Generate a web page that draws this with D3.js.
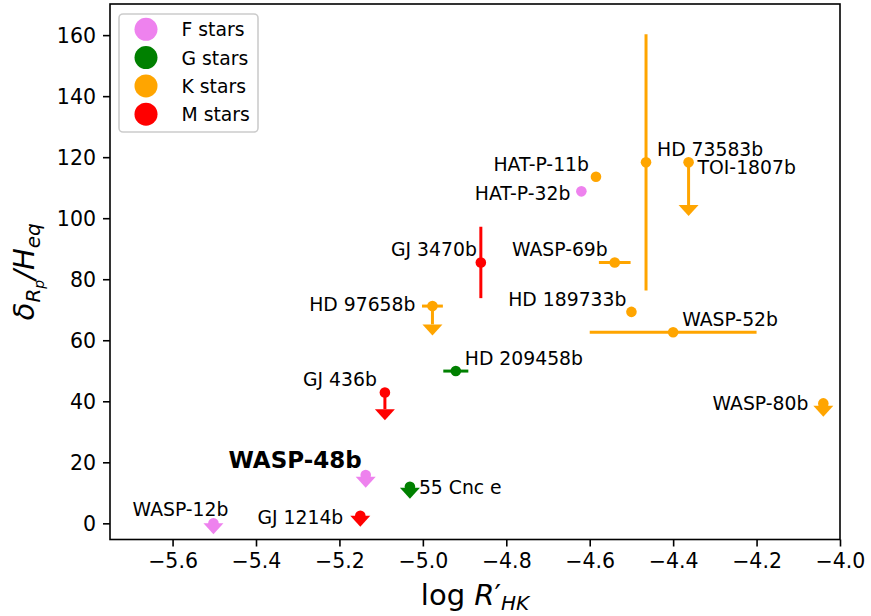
<!DOCTYPE html>
<html>
<head>
<meta charset="utf-8">
<script src="https://cdn.jsdelivr.net/npm/d3@7"></script>
<style>
  body { margin: 0; background: #fff; }
  svg { font-family: "DejaVu Sans", sans-serif; }
</style>
</head>
<body>
<div id="chart"></div>
<script>
// planets, star type, activity index and scale-height ratio
var planets   = ["HAT-P-11b", "HAT-P-32b", "HD 73583b", "TOI-1807b", "WASP-69b", "HD 189733b", "WASP-52b", "GJ 3470b",
                 "HD 97658b", "HD 209458b", "GJ 436b", "WASP-48b", "55 Cnc e", "GJ 1214b", "WASP-12b", "WASP-80b"];
var starType  = ["K", "F", "K", "K", "K", "K", "K", "M", "K", "G", "M", "F", "G", "M", "F", "K"];
var logRHK    = [-4.585, -4.620, -4.465, -4.363, -4.540, -4.500, -4.400, -4.861, -4.977, -4.921, -5.091, -5.137, -5.031, -5.150, -5.502, -4.040];
var deltaH    = [113.6, 108.8, 118.3, 118.3, 85.5, 69.3, 62.6, 85.5, 71.2, 49.9, 42.9, 15.8, 12.0, 2.5, 0.0, 39.3];
var xErr      = [0, 0, 0, 0, 0.038, 0, 0.2, 0, 0.025, 0.03, 0, 0, 0, 0, 0, 0];
var yErr      = [0, 0, 42, 0, 0, 0, 0, 11.7, 0, 0, 0, 0, 0, 0, 0, 0];
// upper limits: length of the arrow (null = measured value)
var upLim     = [null, null, null, 14, null, null, null, null, 6, null, 5.5, 0.5, 0.3, 0, 0, 0.8];

var legendTypes  = ["F", "G", "K", "M"];
var legendLabels = ["F stars", "G stars", "K stars", "M stars"];
var typeColors   = ["violet", "green", "orange", "red"];

var xTicks = [-5.6, -5.4, -5.2, -5.0, -4.8, -4.6, -4.4, -4.2, -4.0];
var yTicks = [0, 20, 40, 60, 80, 100, 120, 140, 160];

// label placement (pixel offsets from the point)
var labelDx     = [-7, -11, 11, 9, -7, -5, 9, -4, -17, 9, -8, -4, 9, -17, 15, -15];
var labelDy     = [-6, 9, -6, 12, -6, -6, -6, -6, 5, -6, -6, -7, 7, 8, -7, 7];
var labelAnchor = ["end", "end", "start", "start", "end", "end", "start", "end", "end", "start", "end", "end", "start", "end", "end", "end"];

var W = 871, H = 616;
var pLeft = 110, pRight = 840, pTop = 4, pBottom = 539.5;

var svg = d3.select("#chart").append("svg").attr("width", W).attr("height", H);

var x = d3.scaleLinear().domain([-5.75, -4.0]).range([pLeft, pRight]);
var y = d3.scaleLinear().domain([-5.3, 170.2]).range([pBottom, pTop]);
var color = d3.scaleOrdinal().domain(legendTypes).range(typeColors);

// axes
var xAxis = svg.append("g").attr("transform", "translate(0," + pBottom + ")")
  .call(d3.axisBottom(x).tickValues(xTicks).tickFormat(d3.format(".1f")).tickSize(7).tickPadding(6));
var yAxis = svg.append("g").attr("transform", "translate(" + pLeft + ",0)")
  .call(d3.axisLeft(y).tickValues(yTicks).tickSize(7).tickPadding(7));
[xAxis, yAxis].forEach(function(a) {
  a.select(".domain").remove();
  a.selectAll(".tick line").attr("stroke", "#000").attr("stroke-width", 1.6);
  a.selectAll(".tick text").attr("fill", "#000").style("font-size", "20.5px").style("font-family", "DejaVu Sans");
});
xAxis.selectAll(".tick text").attr("dy", "0.78em");
yAxis.selectAll(".tick text").attr("dy", "0.36em");

svg.append("rect").attr("x", pLeft).attr("y", pTop).attr("width", pRight - pLeft).attr("height", pBottom - pTop)
  .attr("fill", "none").attr("stroke", "#000").attr("stroke-width", 1.6);

var idx = d3.range(planets.length);
var pts = svg.append("g");

// error bars
idx.forEach(function(i) {
  var c = color(starType[i]);
  if (xErr[i] > 0) {
    pts.append("line").attr("x1", x(logRHK[i] - xErr[i])).attr("x2", x(logRHK[i] + xErr[i]))
      .attr("y1", y(deltaH[i])).attr("y2", y(deltaH[i])).attr("stroke", c).attr("stroke-width", 3);
  }
  if (yErr[i] > 0) {
    pts.append("line").attr("x1", x(logRHK[i])).attr("x2", x(logRHK[i]))
      .attr("y1", y(deltaH[i] - yErr[i])).attr("y2", y(deltaH[i] + yErr[i])).attr("stroke", c).attr("stroke-width", 3);
  }
  if (upLim[i] !== null) {
    var px = x(logRHK[i]), pEnd = y(deltaH[i] - upLim[i]);
    pts.append("line").attr("x1", px).attr("x2", px).attr("y1", y(deltaH[i])).attr("y2", pEnd)
      .attr("stroke", c).attr("stroke-width", 3);
    pts.append("path").attr("d", "M" + (px - 10) + "," + pEnd + "L" + (px + 10) + "," + pEnd + "L" + px + "," + (pEnd + 11) + "Z")
      .attr("fill", c);
  }
});

// markers
pts.selectAll("circle").data(idx).enter().append("circle")
  .attr("cx", function(i) { return x(logRHK[i]); })
  .attr("cy", function(i) { return y(deltaH[i]); })
  .attr("r", 5.3)
  .attr("fill", function(i) { return color(starType[i]); });

// planet labels
svg.append("g").selectAll("text").data(idx).enter().append("text")
  .attr("x", function(i) { return x(logRHK[i]) + labelDx[i]; })
  .attr("y", function(i) { return y(deltaH[i]) + labelDy[i]; })
  .attr("text-anchor", function(i) { return labelAnchor[i]; })
  .style("font-size", function(i) { return planets[i] === "WASP-48b" ? "23px" : "18.8px"; })
  .style("font-weight", function(i) { return planets[i] === "WASP-48b" ? "bold" : "normal"; })
  .text(function(i) { return planets[i]; });

// legend
var lg = svg.append("g");
lg.append("rect").attr("x", 119).attr("y", 14).attr("width", 139).attr("height", 118).attr("rx", 4)
  .attr("fill", "#fff").attr("fill-opacity", 0.8).attr("stroke", "#cccccc").attr("stroke-width", 1.6);
legendTypes.forEach(function(t, k) {
  var cy = 29.3 + k * 28.3;
  lg.append("circle").attr("cx", 146).attr("cy", cy).attr("r", 11.5).attr("fill", color(t));
  lg.append("text").attr("x", 181.5).attr("y", cy + 7).style("font-size", "18.8px").text(legendLabels[k]);
});

// axis labels
var xl = svg.append("text").attr("x", (pLeft + pRight) / 2).attr("y", 605).attr("text-anchor", "middle")
  .style("font-size", "29px");
xl.append("tspan").text("log ");
xl.append("tspan").style("font-style", "italic").text("R");
xl.append("tspan").text("\u2032");
xl.append("tspan").style("font-style", "italic").style("font-size", "20px").attr("dy", 5).text("HK");

var yl = svg.append("text").attr("transform", "translate(34," + (pTop + pBottom) / 2 + ") rotate(-90)")
  .attr("text-anchor", "middle").style("font-size", "29px");
yl.append("tspan").style("font-style", "italic").text("\u03b4");
yl.append("tspan").style("font-style", "italic").style("font-size", "20px").attr("dy", 6).text("R");
yl.append("tspan").style("font-style", "italic").style("font-size", "14px").attr("dy", 4).text("p");
yl.append("tspan").style("font-style", "italic").attr("dy", -10).text("/H");
yl.append("tspan").style("font-style", "italic").style("font-size", "20px").attr("dy", 6).text("eq");
</script>
</body>
</html>
